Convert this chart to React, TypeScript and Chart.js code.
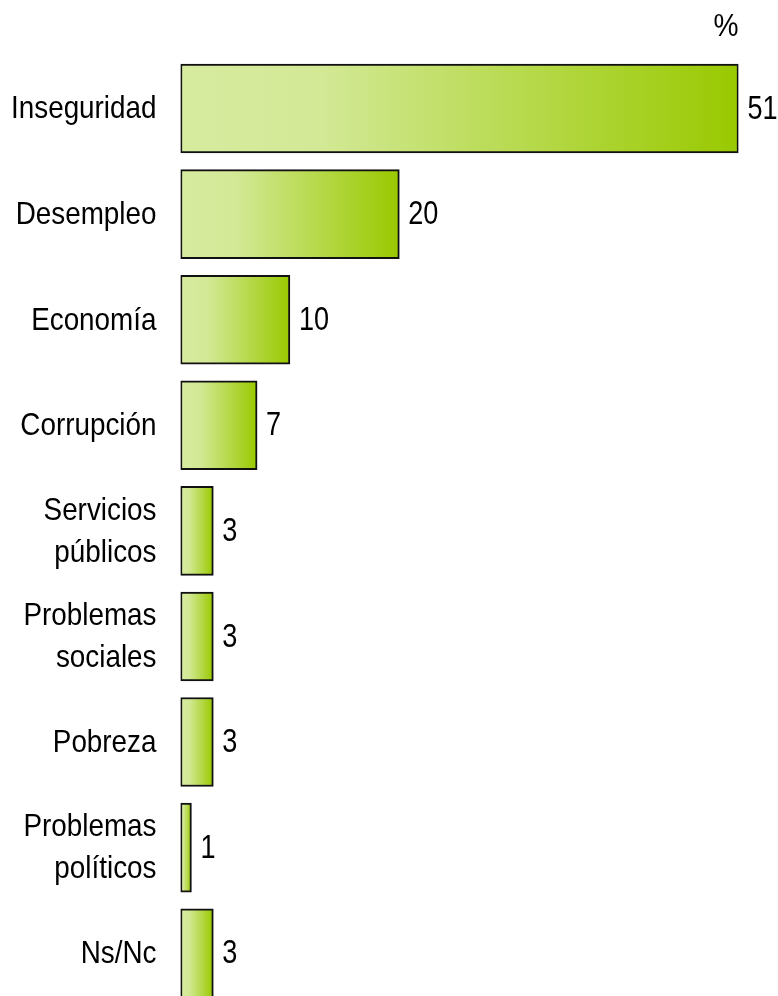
import React, { useEffect, useRef } from "react";
import { Chart, registerables } from "chart.js";

Chart.register(...registerables);

const categories: (string | string[])[] = [
  "Inseguridad",
  "Desempleo",
  "Economía",
  "Corrupción",
  ["Servicios", "públicos"],
  ["Problemas", "sociales"],
  "Pobreza",
  ["Problemas", "políticos"],
  "Ns/Nc",
];
const values: number[] = [51, 20, 10, 7, 3, 3, 3, 1, 3];
const unitLabel = "%";

const FONT = "'Liberation Sans Narrow', 'Liberation Sans', Arial, sans-serif";
const LABEL_SQUEEZE = 0.87;
const VALUE_SQUEEZE = 0.82;

export default function App() {
  const ref = useRef<HTMLCanvasElement | null>(null);

  useEffect(() => {
    if (!ref.current) return;
    const textPlugin = {
      id: "textPlugin",
      afterDatasetsDraw(chart: any) {
        const ctx = chart.ctx;
        const meta = chart.getDatasetMeta(0);
        const ys = chart.scales.y;
        ctx.save();
        ctx.fillStyle = "#000";
        ctx.textBaseline = "middle";

        // category labels (right-aligned, condensed)
        ctx.font = `32px ${FONT}`;
        ctx.textAlign = "right";
        const labelRight = chart.chartArea.left - 24;
        (chart.data.labels as any[]).forEach((lab: any, i: number) => {
          const lines = Array.isArray(lab) ? lab : [lab];
          const cy = ys.getPixelForTick(i);
          const lh = 42;
          lines.forEach((ln: string, k: number) => {
            const y = cy + (k - (lines.length - 1) / 2) * lh + 1;
            ctx.save();
            ctx.scale(LABEL_SQUEEZE, 1);
            ctx.fillText(ln, labelRight / LABEL_SQUEEZE, y);
            ctx.restore();
          });
        });

        // value labels
        ctx.font = `33px ${FONT}`;
        ctx.textAlign = "left";
        meta.data.forEach((bar: any, i: number) => {
          ctx.save();
          ctx.scale(VALUE_SQUEEZE, 1);
          ctx.fillText(String(values[i]), (bar.x + 9) / VALUE_SQUEEZE, bar.y + 1);
          ctx.restore();
        });

        // unit
        ctx.textAlign = "right";
        ctx.font = `32px ${FONT}`;
        ctx.save();
        ctx.scale(0.88, 1);
        ctx.fillText(unitLabel, chart.chartArea.right / 0.88, 27);
        ctx.restore();
        ctx.restore();
      },
    };

    const chart = new Chart(ref.current, {
      type: "bar",
      data: {
        labels: categories,
        datasets: [
          {
            data: values,
            backgroundColor: (c: any) => {
              const ch = c.chart;
              const xs = ch.scales?.x;
              if (!ch.chartArea || !xs || c.raw == null) return "#b8dc5a";
              const x0 = xs.getPixelForValue(0);
              const x1 = xs.getPixelForValue(c.raw);
              const g = ch.ctx.createLinearGradient(x0, 0, Math.max(x1, x0 + 1), 0);
              g.addColorStop(0, "#d7eb9f");
              g.addColorStop(0.25, "#d3e996");
              g.addColorStop(1, "#99c900");
              return g;
            },
            borderColor: "#111",
            borderWidth: 2,
            borderSkipped: false,
            barThickness: 89,
          },
        ],
      },
      options: {
        indexAxis: "y",
        responsive: false,
        animation: false,
        devicePixelRatio: 1,
        layout: { padding: { top: 55.75, right: 39.5, bottom: 0, left: 0 } },
        plugins: {
          legend: { display: false },
          tooltip: { enabled: false },
          title: { display: false },
        },
        scales: {
          x: {
            display: false,
            min: 0,
            max: 51,
          },
          y: {
            grid: { display: false, drawTicks: false, tickLength: 0 },
            border: { display: false },
            ticks: { display: false },
            afterFit: (s: any) => {
              s.width = 180.5;
              s.paddingTop = 0;
              s.paddingBottom = 0;
            },
          },
        },
      },
      plugins: [textPlugin],
    });
    return () => chart.destroy();
  }, []);

  return (
    <div
      style={{
        position: "absolute",
        left: 0,
        top: 0,
        width: 778,
        height: 996,
        overflow: "hidden",
        background: "#fff",
      }}
    >
      <canvas ref={ref} width={778} height={1006} style={{ display: "block" }} />
    </div>
  );
}
